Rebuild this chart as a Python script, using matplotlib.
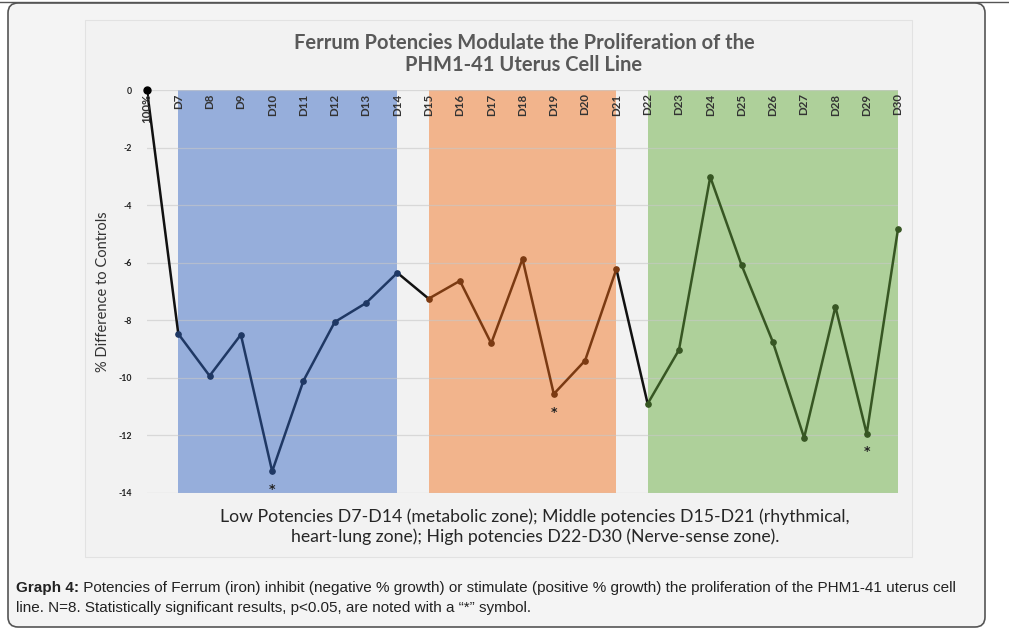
import matplotlib
matplotlib.use('Agg')
import matplotlib.pyplot as plt
from matplotlib.patches import FancyBboxPatch, Rectangle
from matplotlib.transforms import IdentityTransform
from matplotlib.lines import Line2D

# ---------------- data ----------------
categories = ['100%', 'D7', 'D8', 'D9', 'D10', 'D11', 'D12', 'D13', 'D14',
              'D15', 'D16', 'D17', 'D18', 'D19', 'D20', 'D21',
              'D22', 'D23', 'D24', 'D25', 'D26', 'D27', 'D28', 'D29', 'D30']
values = [0.0, -8.47, -9.93, -8.5, -13.25, -10.1, -8.06, -7.4, -6.35,
          -7.25, -6.63, -8.8, -5.87, -10.56, -9.4, -6.22,
          -10.9, -9.03, -3.02, -6.08, -8.75, -12.08, -7.53, -11.94, -4.83]
significant = ['D10', 'D19', 'D29']
zones = [('D7', 'D14'), ('D15', 'D21'), ('D22', 'D30')]
yticks = [0, -2, -4, -6, -8, -10, -12, -14]

title_lines = ['Ferrum Potencies Modulate the Proliferation of the',
               'PHM1-41 Uterus Cell Line']
ylabel = '% Difference to Controls'
note_lines = ['Low Potencies D7-D14 (metabolic zone); Middle potencies D15-D21 (rhythmical,',
              'heart-lung zone); High potencies D22-D30 (Nerve-sense zone).']
cap_bold = 'Graph 4:'
cap_rest1 = (' Potencies of Ferrum (iron) inhibit (negative % growth) or stimulate (positive % growth) '
             'the proliferation of the PHM1-41 uterus cell')
cap_line2 = 'line. N=8. Statistically significant results, p<0.05, are noted with a \u201c*\u201d symbol.'

# ---------------- style ----------------
W, H = 1009, 642
zone_fill = ['#96AEDB', '#F2B48C', '#AED09A']
zone_line = ['#1F3864', '#7B3A12', '#375623']
link_color = '#111111'

fig = plt.figure(figsize=(W / 100, H / 100), dpi=100, facecolor='white')

def fx(x):
    return x / W

def fy(y):
    return 1 - y / H

# page frame (behind the axes)
fig.add_artist(Line2D([0, 1], [fy(1.5), fy(1.5)], transform=fig.transFigure,
                      color='#555555', lw=1.0, zorder=-3))
frame = FancyBboxPatch((8, H - 627), 977, 624, boxstyle='round,pad=0,rounding_size=10',
                       transform=IdentityTransform(), facecolor='#f4f4f4',
                       edgecolor='#555555', lw=1.2, zorder=-3)
fig.add_artist(frame)
inner = Rectangle((85, H - 557), 827, 537, transform=IdentityTransform(),
                  facecolor='#f2f2f2', edgecolor='#e2e2e2', lw=0.8, zorder=-2)
fig.add_artist(inner)

# axes: index 0 at x=147, index 24 at x=898 ; y 0 at 90, -14 at 493
ax = fig.add_axes([fx(147), fy(493), fx(898) - fx(147), fy(90) - fy(493)])
ax.set_zorder(2)
ax.set_facecolor('none')
n = len(categories)
ax.set_xlim(0, n - 1)
ax.set_ylim(-14, 0)
for s in ax.spines.values():
    s.set_visible(False)
ax.set_xticks([])
ax.set_yticks(yticks)
ax.set_yticklabels([str(t) for t in yticks], fontsize=6.3, fontweight='bold',
                   color='#222222', family='Lato')
ax.tick_params(axis='y', length=0, pad=11)
for t in yticks:
    ax.axhline(t, color='#c8c8c8', lw=0.9, alpha=0.6, zorder=1)

idx = {c: i for i, c in enumerate(categories)}
for (a, b), col in zip(zones, zone_fill):
    ax.axvspan(idx[a], idx[b], color=col, zorder=0.5, lw=0)

# linking black segments
ax.plot([0, 1], values[0:2], color=link_color, lw=1.8, zorder=3)
ax.plot([idx['D14'], idx['D15']], [values[idx['D14']], values[idx['D15']]],
        color=link_color, lw=1.8, zorder=3)
ax.plot([idx['D21'], idx['D22']], [values[idx['D21']], values[idx['D22']]],
        color=link_color, lw=1.8, zorder=3)
ax.plot([0], [values[0]], 'o', color='black', ms=5, zorder=5, clip_on=False)

for (a, b), col in zip(zones, zone_line):
    xs = list(range(idx[a], idx[b] + 1))
    ys = values[idx[a]:idx[b] + 1]
    ax.plot(xs, ys, '-o', color=col, lw=1.8, ms=3.8, zorder=4, clip_on=False)

for c in significant:
    ax.annotate('*', (idx[c], values[idx[c]]), xytext=(0, -13), textcoords='offset points',
                ha='center', va='center', fontsize=9, fontweight='bold', color='#222222')

for i, c in enumerate(categories):
    ax.text(i, -0.12, c, rotation=90, ha='center', va='top', fontsize=8.3,
            fontweight='bold', color='#333333', family='Lato', zorder=6)

ax.set_ylabel(ylabel, fontsize=10.5, family='Lato', color='#333333')
ax.yaxis.set_label_coords((110 - 147) / 751, 0.5)

for line, y in zip(title_lines, [43, 65]):
    fig.text(fx(524), fy(y), line, ha='center', va='center', fontsize=14.5,
             fontweight='bold', color='#595959', family='Lato')
for line, y in zip(note_lines, [517, 537]):
    fig.text(fx(535), fy(y), line, ha='center', va='center', fontsize=12.7,
             color='#262626', family='Lato')

capfam = ['Liberation Sans']
t1 = fig.text(fx(16), fy(588), cap_bold, ha='left', va='center', fontsize=11,
              fontweight='bold', color='#222222', family=capfam)
fig.canvas.draw()
bb = t1.get_window_extent()
fig.text(bb.x1 / W, fy(588), cap_rest1, ha='left', va='center', fontsize=11,
         color='#222222', family=capfam)
fig.text(fx(16), fy(608), cap_line2, ha='left', va='center', fontsize=11,
         color='#222222', family=capfam)

fig.savefig('out.png', dpi=100, facecolor='white')
